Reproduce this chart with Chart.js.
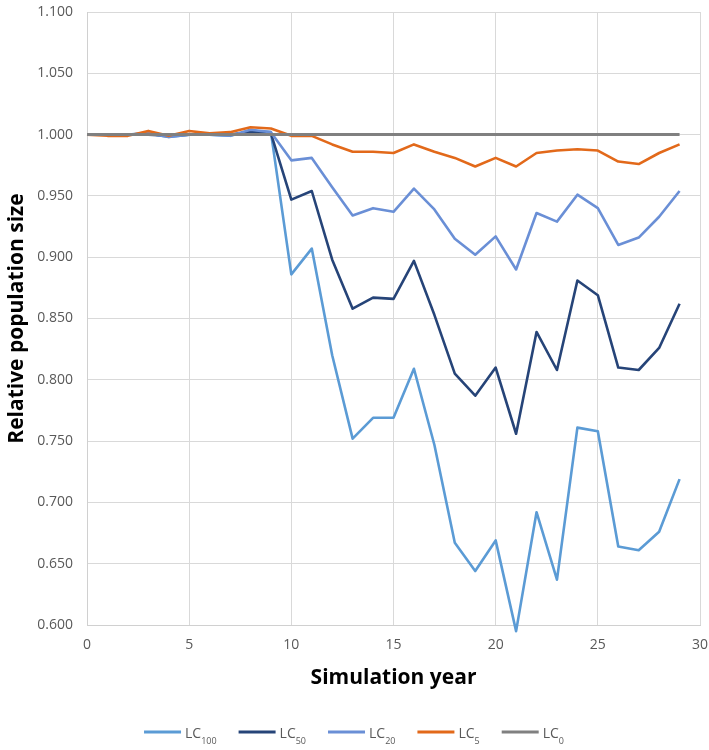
<!DOCTYPE html>
<html>
<head>
<meta charset="utf-8">
<script src="https://cdn.jsdelivr.net/npm/chart.js@4.4.1/dist/chart.umd.min.js"></script>
<style>
  html, body { margin: 0; padding: 0; background: #ffffff; }
  #wrap { width: 709px; height: 750px; position: relative; }
</style>
</head>
<body>
<div id="wrap"><canvas id="c" width="709" height="750"></canvas></div>
<script>
const years = [0,1,2,3,4,5,6,7,8,9,10,11,12,13,14,15,16,17,18,19,20,21,22,23,24,25,26,27,28,29];
const lc100 = [1.000,1.000,1.000,1.001,0.998,1.000,1.000,0.999,1.003,1.002,0.886,0.907,0.820,0.752,0.769,0.769,0.809,0.747,0.667,0.644,0.669,0.595,0.692,0.637,0.761,0.758,0.664,0.661,0.676,0.719];
const lc50 = [1.000,1.000,1.000,1.000,0.999,1.000,1.000,1.000,1.002,1.001,0.947,0.954,0.898,0.858,0.867,0.866,0.897,0.853,0.805,0.787,0.810,0.756,0.839,0.808,0.881,0.869,0.810,0.808,0.826,0.862];
const lc20 = [1.000,1.000,1.000,1.001,0.998,1.000,1.000,0.999,1.004,1.002,0.979,0.981,0.957,0.934,0.940,0.937,0.956,0.939,0.915,0.902,0.917,0.890,0.936,0.929,0.951,0.940,0.910,0.916,0.933,0.954];
const lc5 = [1.000,0.999,0.999,1.003,0.999,1.003,1.001,1.002,1.006,1.005,0.999,0.999,0.992,0.986,0.986,0.985,0.992,0.986,0.981,0.974,0.981,0.974,0.985,0.987,0.988,0.987,0.978,0.976,0.985,0.992];
const lc0 = [1.000,1.000,1.000,1.000,1.000,1.000,1.000,1.000,1.000,1.000,1.000,1.000,1.000,1.000,1.000,1.000,1.000,1.000,1.000,1.000,1.000,1.000,1.000,1.000,1.000,1.000,1.000,1.000,1.000,1.000];

const seriesBase = ["LC","LC","LC","LC","LC"];
const seriesSub = ["100","50","20","5","0"];
const seriesValues = [lc100, lc50, lc20, lc5, lc0];
const seriesColors = ["#5b9bd5","#264478","#6a8fd6","#e2691a","#808080"];
const seriesWidths = [2.6, 2.6, 2.6, 2.6, 3];

const yMin = 0.6, yMax = 1.1, yStep = 0.05;
const xMin = 0, xMax = 30, xStep = 5;

const FONT = "'Open Sans', 'Liberation Sans', sans-serif";
const TEXT_GREY = "#595959";

const datasets = seriesValues.map((vals, i) => ({
  label: seriesBase[i] + seriesSub[i],
  data: years.map((y, k) => ({ x: y, y: vals[k] })),
  borderColor: seriesColors[i],
  backgroundColor: seriesColors[i],
  borderWidth: seriesWidths[i],
  pointRadius: 0,
  pointHoverRadius: 0,
  tension: 0,
  fill: false,
  clip: false,
  order: seriesValues.length - i,
  borderJoinStyle: 'round',
  borderCapStyle: 'butt'
}));

const subLegend = {
  id: 'subLegend',
  afterDraw(chart) {
    const ctx = chart.ctx;
    const lineLen = 37, gapLine = 4, gapItem = 22;
    const mainFont = "14px " + FONT;
    const subFont = "9px " + FONT;
    const items = chart.data.datasets.map((ds, i) => {
      ctx.font = mainFont;
      const wMain = ctx.measureText(seriesBase[i]).width;
      ctx.font = subFont;
      const wSub = ctx.measureText(seriesSub[i]).width;
      return { i, wMain, wSub, w: lineLen + gapLine + wMain + wSub };
    });
    const total = items.reduce((s, it) => s + it.w, 0) + gapItem * (items.length - 1);
    let x = 354 - total / 2;
    const yLine = 732, yBase = 738;
    ctx.save();
    items.forEach(it => {
      ctx.strokeStyle = seriesColors[it.i];
      ctx.lineWidth = 3;
      ctx.beginPath();
      ctx.moveTo(x, yLine);
      ctx.lineTo(x + lineLen, yLine);
      ctx.stroke();
      let tx = x + lineLen + gapLine;
      ctx.fillStyle = TEXT_GREY;
      ctx.textBaseline = 'alphabetic';
      ctx.textAlign = 'left';
      ctx.font = mainFont;
      ctx.fillText(seriesBase[it.i], tx, yBase);
      ctx.font = subFont;
      ctx.fillText(seriesSub[it.i], tx + it.wMain, yBase + 6);
      x += it.w + gapItem;
    });
    ctx.restore();
  }
};

new Chart(document.getElementById('c'), {
  type: 'line',
  data: { datasets },
  options: {
    responsive: false,
    animation: false,
    devicePixelRatio: 1,
    layout: { padding: { top: 12, right: 9, bottom: 50, left: 0 }, autoPadding: false },
    plugins: {
      legend: { display: false },
      tooltip: { enabled: false }
    },
    scales: {
      x: {
        type: 'linear',
        min: xMin, max: xMax,
        afterFit(scale) { scale.height = 75; scale.paddingLeft = 0; scale.paddingRight = 0; },
        ticks: {
          stepSize: xStep,
          padding: 12,
          color: TEXT_GREY,
          font: { family: FONT, size: 14 },
          maxRotation: 0
        },
        grid: { color: '#d9d9d9', lineWidth: 1, drawTicks: false },
        border: { color: '#d0d0d0', width: 1 },
        title: {
          display: true,
          text: 'Simulation year',
          color: '#000000',
          font: { family: FONT, size: 21, weight: 'bold' },
          padding: { top: 0, bottom: 9 }
        }
      },
      y: {
        type: 'linear',
        min: yMin, max: yMax,
        afterFit(scale) { scale.width = 87; scale.paddingTop = 0; scale.paddingBottom = 0; },
        ticks: {
          stepSize: yStep,
          padding: 14,
          color: TEXT_GREY,
          font: { family: FONT, size: 14 },
          callback: v => Number(v).toFixed(3)
        },
        grid: { color: '#d9d9d9', lineWidth: 1, drawTicks: false },
        border: { color: '#d0d0d0', width: 1 },
        title: {
          display: true,
          text: 'Relative population size',
          color: '#000000',
          font: { family: FONT, size: 21, weight: 'bold' },
          padding: { top: 4, bottom: 0 }
        }
      }
    }
  },
  plugins: [subLegend]
});
</script>
</body>
</html>
